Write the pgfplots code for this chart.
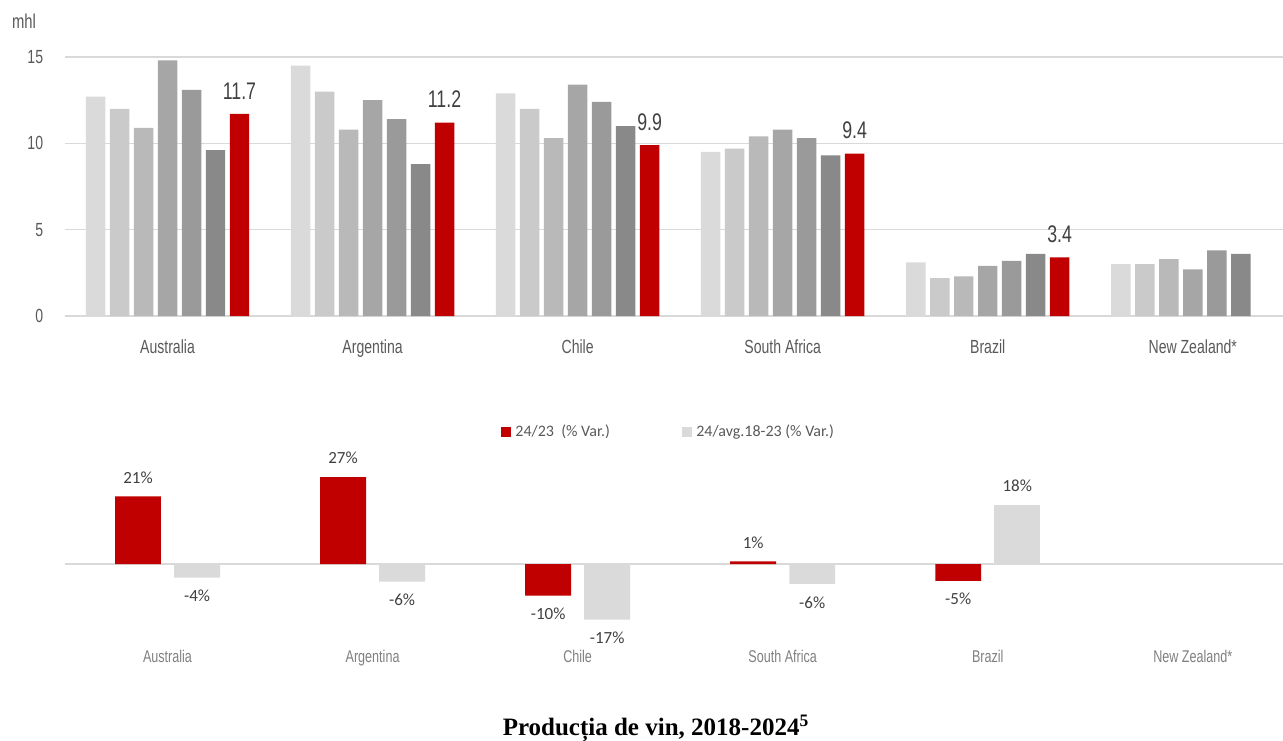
\documentclass[border=0pt]{standalone}
\usepackage{fontspec}
\setmainfont{Liberation Sans}
\newfontfamily\cond{Liberation Sans}[FakeStretch=0.74]
\newfontfamily\calib{Carlito}
\newfontfamily\tnr{Liberation Serif}
\usepackage{pgfplots}
\pgfplotsset{compat=1.18}

\definecolor{ga}{HTML}{DADADA}
\definecolor{gb}{HTML}{CACACA}
\definecolor{gc}{HTML}{B9B9B9}
\definecolor{gd}{HTML}{A6A6A6}
\definecolor{ge}{HTML}{9A9A9A}
\definecolor{gf}{HTML}{898989}
\definecolor{redc}{HTML}{C00000}
\definecolor{gridc}{HTML}{D9D9D9}
\definecolor{tickc}{HTML}{595959}
\definecolor{labc}{HTML}{404040}
\definecolor{lightc}{HTML}{7F7F7F}

\pgfplotsset{
  poslab/.style={nodes near coords, point meta=explicit symbolic,
    nodes near coords style={font=\calib\fontsize{8.5}{10}\selectfont,
      text=labc, anchor=south, inner sep=0pt, yshift=6.3pt}},
  neglab/.style={nodes near coords, point meta=explicit symbolic,
    nodes near coords style={font=\calib\fontsize{8.5}{10}\selectfont,
      text=labc, anchor=south, inner sep=0pt, yshift=-12.3pt}},
}

\begin{document}
\begin{tikzpicture}
% production 2018-2024, mhl
\begin{axis}[
  at={(32.5pt,-158pt)}, anchor=south west,
  scale only axis, width=609pt, height=129.5pt,
  xmin=-0.5, xmax=5.44, ymin=0, ymax=15,
  axis line style={draw=none},
  major tick length=0pt,
  ytick={0,5,10,15},
  ymajorgrids,
  grid style={color=gridc, line width=0.75pt},
  xtick={0,...,5},
  xticklabels={Australia,Argentina,Chile,South Africa,Brazil,New Zealand*},
  xticklabel style={anchor=center, inner sep=0pt, yshift=-15.5pt,
    text height=1.5ex, text depth=0.25ex,
    font=\cond\fontsize{9.5}{11}\selectfont, text=tickc},
  yticklabel style={anchor=east, inner sep=0pt, xshift=-10.75pt,
    font=\cond\fontsize{9.5}{11}\selectfont, text=tickc},
  /pgf/number format/assume math mode=true,
  clip=false,
]
\addplot[ybar, bar width=0.095, bar shift=-0.351, fill=ga, draw=none]
  coordinates {(0,12.7) (1,14.5) (2,12.9) (3,9.5) (4,3.1) (5,3.0)};
\addplot[ybar, bar width=0.095, bar shift=-0.234, fill=gb, draw=none]
  coordinates {(0,12.0) (1,13.0) (2,12.0) (3,9.7) (4,2.2) (5,3.0)};
\addplot[ybar, bar width=0.095, bar shift=-0.117, fill=gc, draw=none]
  coordinates {(0,10.9) (1,10.8) (2,10.3) (3,10.4) (4,2.3) (5,3.3)};
\addplot[ybar, bar width=0.095, bar shift=0, fill=gd, draw=none]
  coordinates {(0,14.8) (1,12.5) (2,13.4) (3,10.8) (4,2.9) (5,2.7)};
\addplot[ybar, bar width=0.095, bar shift=0.117, fill=ge, draw=none]
  coordinates {(0,13.1) (1,11.4) (2,12.4) (3,10.3) (4,3.2) (5,3.8)};
\addplot[ybar, bar width=0.095, bar shift=0.234, fill=gf, draw=none]
  coordinates {(0,9.6) (1,8.8) (2,11.0) (3,9.3) (4,3.6) (5,3.6)};
% 2024, placed at its own x so the labels sit over the bars
\addplot[ybar, bar width=0.095, bar shift=0, fill=redc, draw=none,
  nodes near coords, point meta=explicit symbolic,
  nodes near coords style={font=\cond\fontsize{12}{13}\selectfont,
    text=labc, anchor=south, inner sep=0pt, yshift=7.2pt}]
  coordinates {(0.351,11.7)[11.7] (1.351,11.2)[11.2] (2.351,9.9)[9.9]
               (3.351,9.4)[9.4] (4.351,3.4)[3.4]};
\end{axis}

% variation, %
\begin{axis}[
  at={(32.5pt,-314.2pt)}, anchor=south west,
  scale only axis, width=609pt, height=80.5pt,
  xmin=-0.5, xmax=5.44, ymin=-20, ymax=30,
  axis line style={draw=none},
  major tick length=0pt,
  ytick={0}, yticklabels={},
  ymajorgrids,
  grid style={color=gridc, line width=0.75pt},
  xtick={0,...,5},
  xticklabels={Australia,Argentina,Chile,South Africa,Brazil,New Zealand*},
  xticklabel style={anchor=center, inner sep=0pt, yshift=-13.8pt,
    text height=1.5ex, text depth=0.25ex,
    font=\cond\fontsize{8.5}{10}\selectfont, text=lightc},
  legend columns=2,
  legend style={at={(0.4963,1.22)}, anchor=center, draw=none, fill=none,
    font=\calib\fontsize{8}{9}\selectfont, text=tickc,
    /tikz/every even column/.append style={column sep=34pt}},
  clip=false,
]
\addplot[ybar, bar width=0.224, bar shift=0, fill=redc, draw=none,
  legend image code/.code={\fill[redc] (0pt,-2.6pt) rectangle (5.2pt,2.6pt);},
  poslab]
  coordinates {(-0.144,21)[21\%] (0.856,27)[27\%] (2.856,0.8)[1\%]};
\addlegendentry{24/23\ \ (\% Var.)}
\addplot[ybar, bar width=0.224, bar shift=0, fill=redc, draw=none,
  forget plot, neglab]
  coordinates {(1.856,-9.8)[-10\%] (3.856,-5.2)[-5\%]};
\addplot[ybar, bar width=0.224, bar shift=0, fill=ga, draw=none,
  legend image code/.code={\fill[ga] (0pt,-2.6pt) rectangle (5.2pt,2.6pt);},
  poslab]
  coordinates {(4.144,18.4)[18\%]};
\addlegendentry{24/avg.18-23 (\% Var.)}
\addplot[ybar, bar width=0.224, bar shift=0, fill=ga, draw=none,
  forget plot, neglab]
  coordinates {(0.144,-4.2)[-4\%] (1.144,-5.5)[-6\%] (2.144,-17.3)[-17\%]
               (3.144,-6.2)[-6\%]};
\end{axis}

\node[font=\cond\fontsize{10}{11}\selectfont, text=tickc] at (12pt,-10.5pt) {mhl};
\node[anchor=base, font=\tnr\bfseries\fontsize{12.5}{14}\selectfont]
  at (328pt,-367.5pt) {Producția de vin, 2018-2024\textsuperscript{5}};

\pgfresetboundingbox
\path (0,0) rectangle (641.5pt,-370pt);
\end{tikzpicture}
\end{document}
